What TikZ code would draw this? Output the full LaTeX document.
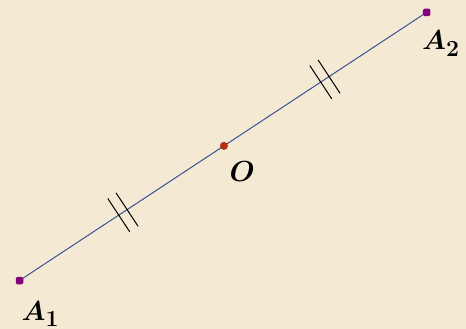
\documentclass[tikz,border=0pt]{standalone}
\usepackage{fix-cm}
\usepackage{bm}
\usetikzlibrary{calc}
\definecolor{bg}{RGB}{244,234,212}
\definecolor{segcol}{RGB}{60,80,150}
\definecolor{ptpurple}{RGB}{130,0,120}
\definecolor{ptred}{RGB}{185,45,20}
\tikzset{
  seg/.style={draw=segcol,line width=1pt},
  tick/.style={draw=black,line width=1pt},
  ptA/.style={rectangle,rounded corners=1.5pt,fill=ptpurple,inner sep=0pt,minimum size=7.5pt},
  ptO/.style={circle,fill=ptred,inner sep=0pt,minimum size=8pt},
  lbl/.style={inner sep=0pt}
}
\newcommand{\sublbl}[2]{{\fontsize{27.5}{27.5}\selectfont$\bm{#1}$}\raisebox{-6.5pt}{\fontsize{23}{23}\selectfont\bfseries #2}}
\newcommand{\biglbl}[1]{{\fontsize{29}{29}\selectfont$\bm{#1}$}}
\begin{document}
\begin{tikzpicture}[x=1pt,y=-1pt]
\fill[bg] (0,0) rectangle (466,329);
\useasboundingbox (0,0) rectangle (466,329);
\coordinate (A1) at (19.5,280.5);
\coordinate (A2) at (426.7,12.3);
\draw[seg] (A1) -- (A2);
% tick marks
\foreach \t in {0.254,0.75}{
  \foreach \d in {-5,5}{
    \path (A1) -- (A2) coordinate[pos=\t] (c);
    \draw[tick] ($(c)!\d pt!(A2)$) coordinate (m) ($(m)!20pt!90:(A2)$) -- ($(m)!20pt!-90:(A2)$);
  }
}
\node[ptA] (p1) at (A1) {};
\node[ptA] (p2) at (A2) {};
\node[ptO] (O) at ($(A1)!0.502!(A2)$) {};
\node[lbl,anchor=base west] (l1) at (21.5,320) {\sublbl{A}{1}};
\node[lbl,anchor=base west] (l2) at (422,50) {\sublbl{A}{2}};
\node[lbl,anchor=base west] (lO) at (229.5,181.5) {\biglbl{O}};
\end{tikzpicture}
\end{document}
